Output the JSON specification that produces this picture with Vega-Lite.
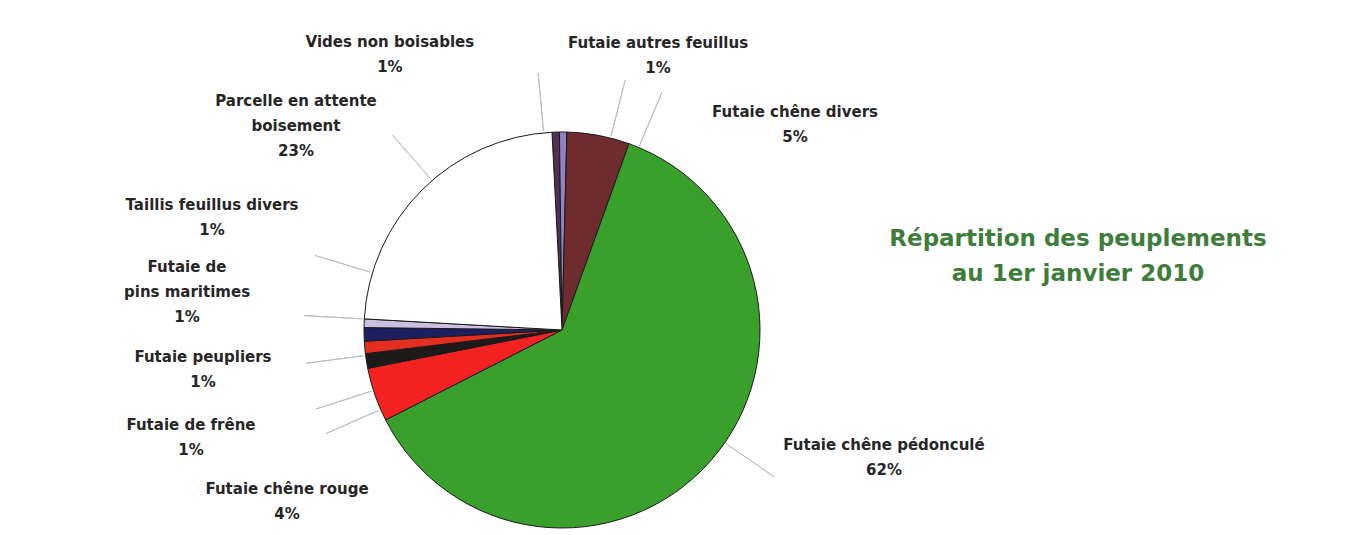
{
  "$schema": "https://vega.github.io/schema/vega-lite/v6.json",
  "width": 396,
  "height": 396,
  "autosize": {"type": "none"},
  "padding": {"left": 364, "top": 132, "right": 587, "bottom": 7},
  "background": "white",
  "config": {"view": {"stroke": null}},
  "title": {
    "text": ["Répartition des peuplements", "au 1er janvier 2010"],
    "anchor": "middle",
    "frame": "group",
    "orient": "top",
    "offset": 0,
    "dx": 516,
    "dy": 245,
    "baseline": "line-top",
    "lineHeight": 35,
    "font": "DejaVu Sans",
    "fontSize": 23,
    "fontWeight": "bold",
    "color": "#3f7d3a"
  },
  "data": {
    "values": [
      {"rank": 1, "name": "Vides non boisables", "share": 0.006},
      {"rank": 2, "name": "Futaie autres feuillus", "share": 0.006},
      {"rank": 3, "name": "Futaie chêne divers", "share": 0.051},
      {"rank": 4, "name": "Futaie chêne pédonculé", "share": 0.62},
      {"rank": 5, "name": "Futaie chêne rouge", "share": 0.044},
      {"rank": 6, "name": "Futaie de frêne", "share": 0.012},
      {"rank": 7, "name": "Futaie peupliers", "share": 0.010},
      {"rank": 8, "name": "Futaie de\npins maritimes", "share": 0.011},
      {"rank": 9, "name": "Taillis feuillus divers", "share": 0.007},
      {"rank": 10, "name": "Parcelle en attente\nboisement", "share": 0.233}
    ]
  },
  "layer": [
    {
      "mark": {"type": "arc", "stroke": "#1a1a1a", "strokeWidth": 1},
      "encoding": {
        "theta": {"field": "share", "type": "quantitative", "stack": true, "scale": {"domain": [0, 1], "range": [-0.0506, 6.2326]}},
        "order": {"field": "rank", "type": "quantitative"},
        "color": {
          "field": "name",
          "type": "nominal",
          "legend": null,
          "scale": {
            "domain": ["Vides non boisables", "Futaie autres feuillus", "Futaie chêne divers", "Futaie chêne pédonculé", "Futaie chêne rouge", "Futaie de frêne", "Futaie peupliers", "Futaie de\npins maritimes", "Taillis feuillus divers", "Parcelle en attente\nboisement"],
            "range": ["#55304c", "#8e84c6", "#6e2c2e", "#3aa02c", "#f52222", "#1e1a1a", "#e62e20", "#1c2060", "#cbbfe2", "#ffffff"]
          }
        }
      }
    },
    {
      "mark": {"type": "arc", "radius": 258, "radius2": 200, "stroke": "#bdbdbd", "strokeWidth": 1, "fill": "transparent"},
      "encoding": {
        "theta": {"field": "rank", "type": "quantitative", "scale": {"type": "linear", "zero": false, "domain": [1, 2, 3, 4, 5, 6, 7, 8, 9, 10], "range": [-0.0925, 0.2478, 0.3979, 2.1764, 4.2988, 4.4017, 4.5832, 4.7682, 5.0056, 5.5676]}},
        "theta2": {"field": "rank"}
      }
    },
    {
      "mark": {"type": "text", "baseline": "line-bottom", "lineBreak": "\n", "lineHeight": 25, "font": "DejaVu Sans", "fontWeight": "bold", "fontSize": 15, "color": "#262626", "dy": {"expr": "indexof(datum.name, '\\n') >= 0 ? -25 : 0"}},
      "encoding": {
        "theta": {"field": "rank", "type": "quantitative", "scale": {"type": "linear", "zero": false, "domain": [1, 2, 3, 4, 5, 6, 7, 8, 9, 10], "range": [-0.5585, 0.3365, 0.8481, 1.9492, 4.1547, 4.4303, 4.6028, 4.7789, 5.0234, 5.3352]}},
        "radius": {"field": "rank", "type": "quantitative", "scale": {"type": "linear", "zero": false, "domain": [1, 2, 3, 4, 5, 6, 7, 8, 9, 10], "range": [324.8, 290.8, 310.7, 346.5, 324.1, 386.3, 361.2, 375.8, 367.6, 327.5]}},
        "text": {"field": "name"}
      }
    },
    {
      "mark": {"type": "text", "baseline": "line-top", "lineHeight": 25, "font": "DejaVu Sans", "fontWeight": "bold", "fontSize": 15, "color": "#262626"},
      "encoding": {
        "theta": {"field": "rank", "type": "quantitative", "scale": {"type": "linear", "zero": false, "domain": [1, 2, 3, 4, 5, 6, 7, 8, 9, 10], "range": [-0.5585, 0.3365, 0.8481, 1.9492, 4.1547, 4.4303, 4.6028, 4.7789, 5.0234, 5.3352]}},
        "radius": {"field": "rank", "type": "quantitative", "scale": {"type": "linear", "zero": false, "domain": [1, 2, 3, 4, 5, 6, 7, 8, 9, 10], "range": [324.8, 290.8, 310.7, 346.5, 324.1, 386.3, 361.2, 375.8, 367.6, 327.5]}},
        "text": {"field": "share", "type": "quantitative", "format": ".0%"}
      }
    }
  ],
  "resolve": {"scale": {"theta": "independent", "radius": "independent"}}
}
